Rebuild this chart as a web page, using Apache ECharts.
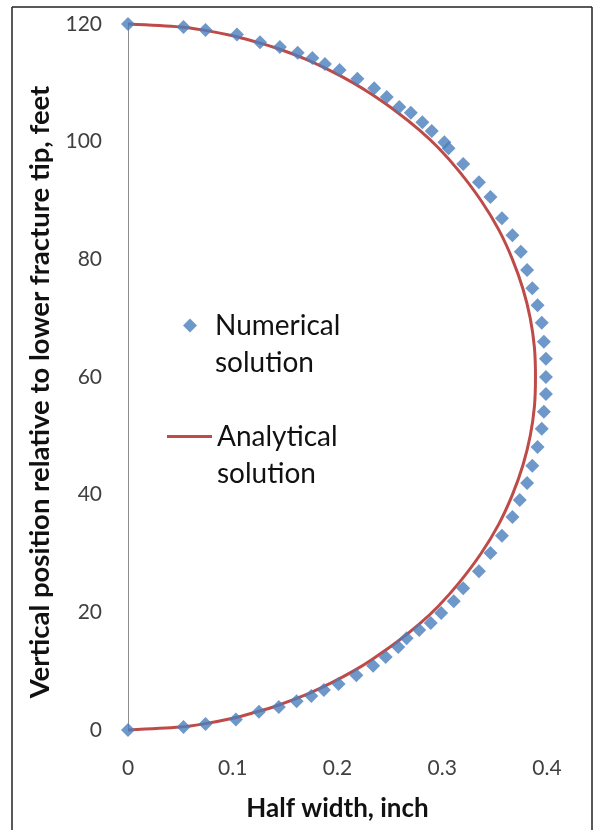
<!DOCTYPE html>
<html>
<head>
<meta charset="utf-8">
<script src="https://cdn.jsdelivr.net/npm/echarts@6/dist/echarts.min.js"></script>
<style>
  html, body { margin: 0; padding: 0; background: #fff; }
  #chart { width: 595px; height: 830px; }
</style>
</head>
<body>
<div id="chart"></div>
<script>
// Numerical solution: half width (inch) and vertical position (ft)
const numericalWidth = [
  0, 0.053, 0.074, 0.104, 0.126, 0.145, 0.162, 0.176, 0.188, 0.202,
  0.219, 0.235, 0.247, 0.259, 0.270, 0.281, 0.290, 0.302, 0.306, 0.320,
  0.335, 0.346, 0.357, 0.367, 0.375, 0.381, 0.386, 0.391, 0.395, 0.397,
  0.399, 0.399, 0.399, 0.397, 0.395, 0.391, 0.386, 0.381, 0.374, 0.367,
  0.357, 0.346, 0.335, 0.320, 0.311, 0.299, 0.289, 0.278, 0.266, 0.258,
  0.246, 0.234, 0.218, 0.201, 0.187, 0.175, 0.161, 0.144, 0.125, 0.103,
  0.074, 0.053, 0
];
const numericalHeight = [
  120, 119.5, 119.0, 118.2, 116.9, 116.1, 115.1, 114.2, 113.2, 112.2,
  110.7, 109.1, 107.6, 105.9, 104.9, 103.3, 101.8, 99.9, 98.9, 96.2,
  93.1, 90.6, 87.0, 84.1, 81.3, 78.2, 75.1, 72.2, 69.2, 66.0,
  63.1, 60.0, 57.1, 54.1, 51.2, 48.1, 44.9, 42.0, 39.1, 36.2,
  33.0, 30.1, 27.0, 24.1, 21.9, 19.9, 18.2, 17.0, 15.6, 14.1,
  12.4, 10.9, 9.3, 7.8, 6.8, 5.8, 4.9, 3.9, 3.1, 1.8,
  1.0, 0.5, 0
];

// Analytical solution (elliptical profile)
const analyticalWidth = [
  0, 0.050, 0.071, 0.100, 0.121, 0.140, 0.170, 0.194, 0.215, 0.233,
  0.257, 0.278, 0.296, 0.316, 0.337, 0.354, 0.367, 0.377, 0.384, 0.388,
  0.389,
  0.388, 0.384, 0.377, 0.367, 0.354, 0.337, 0.316, 0.296, 0.278, 0.257,
  0.233, 0.215, 0.194, 0.170, 0.140, 0.121, 0.100, 0.071, 0.050, 0
];
const analyticalHeight = [
  0, 0.5, 1, 2, 3, 4, 6, 8, 10, 12,
  15, 18, 21, 25, 30, 35, 40, 45, 50, 55,
  60,
  65, 70, 75, 80, 85, 90, 95, 99, 102, 105,
  108, 110, 112, 114, 116, 117, 118, 119, 119.5, 120
];

const xTicks = { min: 0, max: 0.4, interval: 0.1 };
const yTicks = { min: 0, max: 120, interval: 20 };

const numericalName = 'Numerical solution';
const analyticalName = 'Analytical solution';

const pair = (xs, ys) => xs.map((x, i) => [x, ys[i]]);

const chart = echarts.init(document.getElementById('chart'), null, { renderer: 'canvas' });

const FONT = 'Lato, "Open Sans", sans-serif';

// legend text: a blank first line keeps the icon level with the first word
const legendText = name => ' \n' + name.replace(' ', '\n');

chart.setOption({
  backgroundColor: '#ffffff',
  animation: false,
  grid: { left: 128, right: 48, top: 24, bottom: 100, containLabel: false },
  xAxis: {
    type: 'value',
    min: xTicks.min, max: xTicks.max, interval: xTicks.interval,
    axisLine: { show: false },
    axisTick: { show: false },
    splitLine: { show: false },
    axisLabel: {
      margin: 28, color: '#404040', fontSize: 21, fontFamily: FONT,
      formatter: v => String(Math.round(v * 10) / 10)
    },
    name: 'Half width, inch',
    nameLocation: 'middle',
    nameGap: 66,
    nameTextStyle: { color: '#111', fontSize: 26, fontWeight: 'bold', fontFamily: FONT }
  },
  yAxis: {
    type: 'value',
    min: yTicks.min, max: yTicks.max, interval: yTicks.interval,
    axisLine: { show: true, lineStyle: { color: '#8c8c8c', width: 1 } },
    axisTick: { show: false },
    splitLine: { show: false },
    axisLabel: { margin: 26, color: '#404040', fontSize: 21, fontFamily: FONT },
    name: 'Vertical position relative to lower fracture tip, feet',
    nameLocation: 'middle',
    nameRotate: 90,
    nameGap: 72,
    nameTextStyle: {
      color: '#111', fontSize: 27.5, fontWeight: 'bold', fontFamily: FONT,
      padding: [0, 30, 0, 0]
    }
  },
  legend: [
    {
      data: [numericalName],
      orient: 'vertical',
      left: 183, top: 270,
      padding: 0,
      itemWidth: 14, itemHeight: 14,
      icon: 'diamond',
      formatter: legendText,
      textStyle: { fontSize: 28, lineHeight: 37, color: '#111', fontFamily: FONT, padding: [0, 0, 0, 13] }
    },
    {
      data: [analyticalName],
      orient: 'vertical',
      left: 167, top: 381,
      padding: 0,
      itemWidth: 45, itemHeight: 3,
      icon: 'rect',
      formatter: legendText,
      textStyle: { fontSize: 28, lineHeight: 37, color: '#111', fontFamily: FONT }
    }
  ],
  graphic: [
    // chart frame (left, top and right edges)
    { type: 'line', shape: { x1: 12, y1: 7, x2: 12, y2: 830 }, style: { stroke: '#222', lineWidth: 1.5 }, silent: true },
    { type: 'line', shape: { x1: 12, y1: 7, x2: 592, y2: 7 }, style: { stroke: '#222', lineWidth: 1.5 }, silent: true },
    { type: 'line', shape: { x1: 592, y1: 7, x2: 592, y2: 830 }, style: { stroke: '#222', lineWidth: 1.5 }, silent: true }
  ],
  series: [
    {
      name: analyticalName,
      type: 'line',
      data: pair(analyticalWidth, analyticalHeight),
      showSymbol: false,
      symbol: 'none',
      smooth: 0.3,
      clip: false,
      lineStyle: { color: '#BE4B48', width: 3 },
      itemStyle: { color: '#BE4B48' },
      z: 2
    },
    {
      name: numericalName,
      type: 'scatter',
      data: pair(numericalWidth, numericalHeight),
      symbol: 'diamond',
      symbolSize: 14,
      clip: false,
      itemStyle: { color: '#4A7EBB' },
      z: 3
    }
  ]
});
</script>
</body>
</html>
